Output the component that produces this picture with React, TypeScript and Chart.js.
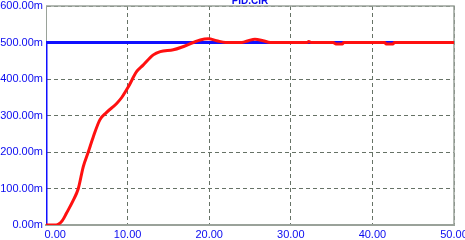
import React, { useEffect, useRef } from "react";
import { Chart, registerables } from "chart.js";

Chart.register(...registerables);

// Setpoint (blue step) series
const stepTime = [0, 0, 50];
const stepValue = [0, 500, 500];

// Response (red) series, time in s, value in m-units
const respTime = [0, 1.0, 1.5, 2.0, 2.5, 3.35, 3.96, 4.57, 5.18, 5.8, 6.6, 7.4, 8.66, 9.3, 10.1, 11.1, 11.9, 13.15, 14.0, 15.6, 16.6, 18.05, 18.9, 19.9, 20.9, 22.0, 24.0, 24.8, 25.6, 26.6, 27.5, 32.0, 32.2, 32.5, 35.2, 35.5, 36.3, 36.5, 41.5, 41.7, 42.5, 42.7, 50];
const respValue = [0, 0, 2, 12, 32, 68, 100, 160, 200, 242, 288, 308, 333, 350, 379, 420, 438, 466, 475, 480, 487, 500, 507, 510, 505, 500, 500, 505, 509, 505, 500, 500, 503, 500, 500, 496, 496, 500, 500, 496, 496, 500, 500];

const xTicks = [0, 10, 20, 30, 40, 50];
const yTicks = [0, 100, 200, 300, 400, 500, 600];
const title = "PID.CIR";

const BLUE_TEXT = "#0a0af0";
const GRID = "#667266";
const FRAME = "#9aa29a";

export default function App() {
  const ref = useRef<HTMLCanvasElement>(null);
  useEffect(() => {
    const frame = {
      id: "frame",
      beforeDatasetsDraw(chart: any) {
        const { ctx, chartArea: a } = chart;
        ctx.save();
        ctx.strokeStyle = FRAME;
        ctx.lineWidth = 1.5;
        ctx.setLineDash([]);
        ctx.beginPath();
        ctx.moveTo(a.left, a.top);
        ctx.lineTo(a.right, a.top);
        ctx.lineTo(a.right, a.bottom);
        ctx.stroke();
        ctx.restore();
      },
    };
    const chart = new Chart(ref.current!, {
      type: "scatter",
      data: {
        datasets: [
          {
            data: respTime.map((t, i) => ({ x: t, y: respValue[i] })),
            showLine: true,
            borderColor: "#ff1010",
            borderWidth: 3,
            pointRadius: 0,
            cubicInterpolationMode: "monotone",
          },
          {
            data: stepTime.map((t, i) => ({ x: t, y: stepValue[i] })),
            showLine: true,
            borderColor: "#1010ff",
            borderWidth: 3,
            pointRadius: 0,
            tension: 0,
          },
        ],
      },
      plugins: [frame],
      options: {
        animation: false,
        responsive: false,
        devicePixelRatio: 1,
        layout: { padding: { left: 0, right: 11, top: 0, bottom: 0 } },
        plugins: {
          legend: { display: false },
          tooltip: { enabled: false },
          title: {
            display: true,
            text: title,
            fullSize: false,
            color: BLUE_TEXT,
            font: { family: "'Liberation Sans', Arial, sans-serif", size: 10, lineHeight: 0.9 },
            padding: { top: 3, bottom: 0 },
          },
        },
        scales: {
          x: {
            type: "linear",
            min: 0,
            max: 50,
            afterBuildTicks: (s: any) => {
              s.ticks = xTicks.map((v) => ({ value: v }));
            },
            afterFit: (s: any) => {
              s.height = 15;
              s.paddingLeft = 0;
              s.paddingRight = 0;
            },
            ticks: {
              autoSkip: false,
              maxRotation: 0,
              padding: 3,
              color: BLUE_TEXT,
              font: { family: "'Liberation Sans', Arial, sans-serif", size: 11 },
              callback: (v: any) => (Number(v) === 0 ? "\u2007\u2007\u2007" : "") + Number(v).toFixed(2),
            },
            grid: {
              drawTicks: false,
              color: GRID,
              lineWidth: 1,
            },
            border: { display: true, color: FRAME, width: 2, dash: [4, 3] },
          },
          y: {
            type: "linear",
            min: 0,
            max: 600,
            afterBuildTicks: (s: any) => {
              s.ticks = yTicks.map((v) => ({ value: v }));
            },
            afterFit: (s: any) => {
              s.width = 46;
              s.paddingTop = 0;
              s.paddingBottom = 0;
            },
            ticks: {
              autoSkip: false,
              padding: 3,
              color: BLUE_TEXT,
              font: { family: "'Liberation Sans', Arial, sans-serif", size: 11 },
              callback: (v: any) => Number(v).toFixed(2) + "m",
            },
            grid: {
              drawTicks: false,
              color: GRID,
              lineWidth: 1,
            },
            border: { display: true, color: FRAME, width: 1, dash: [4, 3] },
          },
        },
      } as any,
    });
    return () => chart.destroy();
  }, []);
  return (
    <div style={{ position: "fixed", left: 0, top: 0, width: 465, height: 240, overflow: "hidden", background: "#fff" }}>
      <canvas ref={ref} width={465} height={246} style={{ position: "absolute", left: 0, top: -6, width: 465, height: 246 }} />
    </div>
  );
}
